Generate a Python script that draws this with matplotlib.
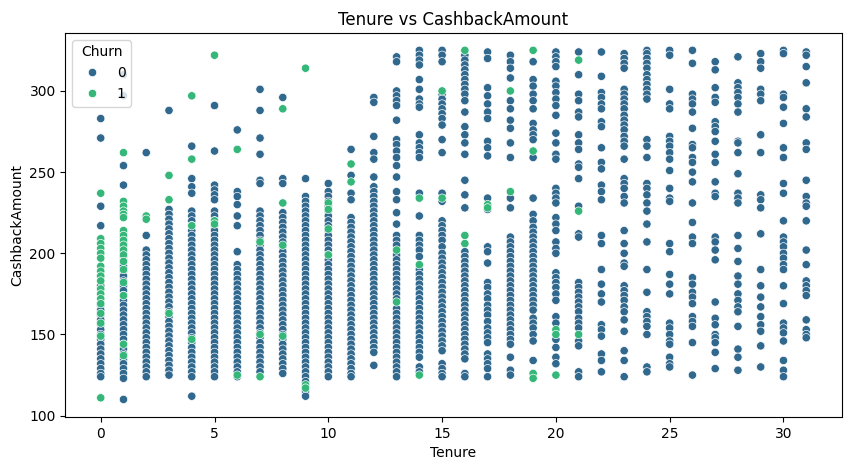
import matplotlib
matplotlib.use("Agg")
import matplotlib.pyplot as plt
import pandas as pd
import seaborn as sns

# Tenure categories (x) and, per tenure, the CashbackAmount values
tenures = list(range(32))

# Churn = 0
cashback_stay = [
    [283, 271, 229, 217, 186, 180, 168, 165, 162, 159, 156, 153, 150, 147, 144, 141, 138, 135, 132, 129, 126, 124],
    [310, 297, 254, 242, 213, 210, 207, 204, 201, 198, 195, 192, 189, 186, 183, 180, 177, 174, 171, 168, 165,
     162, 159, 156, 153, 150, 147, 144, 141, 138, 135, 132, 129, 126, 123, 110],
    [262, 211, 202, 199, 196, 193, 190, 187, 184, 181, 178, 175, 172, 169, 166, 163, 160, 157, 154, 151, 148,
     145, 142, 139, 136, 133, 130, 127, 124],
    [288, 227, 224, 221, 218, 215, 212, 209, 206, 203, 200, 197, 194, 191, 188, 185, 182, 179, 176, 173, 170,
     167, 164, 161, 158, 155, 152, 149, 146, 143, 140, 137, 134, 131, 128, 125],
    [266, 246, 241, 237, 226, 223, 220, 217, 214, 211, 208, 205, 202, 199, 196, 193, 190, 187, 184, 181, 178,
     175, 172, 169, 166, 163, 160, 157, 154, 151, 148, 145, 142, 139, 136, 133, 130, 127, 124, 112],
    [291, 263, 242, 239, 236, 233, 226, 223, 220, 217, 214, 211, 208, 205, 202, 199, 196, 193, 190, 187, 184,
     181, 178, 175, 172, 169, 166, 163, 160, 157, 154, 151, 148, 145, 142, 139, 136, 133, 130, 127, 124],
    [276, 238, 235, 230, 223, 217, 201, 193, 190, 187, 184, 181, 178, 175, 172, 169, 166, 163, 160, 157, 154,
     151, 148, 145, 142, 139, 136, 133, 130, 127, 124],
    [301, 288, 271, 261, 245, 243, 226, 223, 220, 217, 214, 211, 208, 205, 202, 199, 196, 193, 190, 187, 184,
     181, 178, 175, 172, 169, 166, 163, 160, 157, 154, 151, 148, 145, 142, 139, 136, 133, 130, 127],
    [296, 246, 243, 225, 222, 219, 216, 213, 210, 207, 204, 201, 198, 195, 192, 189, 186, 183, 180, 177, 174,
     171, 168, 165, 162, 159, 156, 153, 150, 147, 144, 141, 138, 135, 132, 129, 126],
    [246, 235, 232, 229, 226, 223, 220, 217, 214, 211, 208, 205, 202, 199, 196, 193, 190, 187, 184, 181, 178,
     175, 172, 169, 166, 163, 160, 157, 154, 151, 148, 145, 142, 139, 136, 133, 130, 127, 124, 121, 118, 115, 112],
    [243, 238, 235, 232, 229, 226, 223, 220, 217, 214, 211, 208, 205, 202, 199, 196, 193, 190, 187, 184, 181,
     178, 175, 172, 169, 166, 163, 160, 157, 154, 151, 148, 145, 142, 139, 136, 133, 130, 127, 124],
    [264, 248, 237, 233, 222, 219, 216, 213, 210, 207, 204, 201, 198, 195, 192, 189, 186, 183, 180, 177, 174,
     171, 168, 165, 162, 159, 156, 153, 150, 147, 144, 141, 138, 135, 132, 129, 126, 124],
    [296, 293, 272, 262, 258, 247, 241, 238, 235, 232, 229, 226, 223, 220, 217, 214, 211, 208, 205, 202, 199,
     196, 193, 190, 187, 184, 181, 178, 175, 172, 169, 166, 163, 160, 157, 154, 151, 148, 145, 142, 139, 131],
    [321, 318, 300, 297, 294, 291, 282, 270, 267, 263, 259, 254, 247, 238, 233, 225, 218, 211, 208, 205, 199,
     196, 193, 190, 187, 184, 181, 178, 175, 172, 166, 163, 160, 157, 154, 151, 148, 145, 142, 139, 136, 133,
     130, 127, 124],
    [325, 322, 319, 316, 307, 301, 295, 292, 290, 273, 268, 265, 262, 259, 237, 223, 211, 208, 205, 202, 198,
     190, 187, 184, 181, 178, 175, 172, 169, 166, 163, 160, 157, 154, 151, 148, 145, 142, 139, 136, 130, 127],
    [325, 322, 318, 298, 295, 292, 289, 286, 283, 279, 270, 262, 237, 232, 220, 217, 214, 211, 208, 204, 200,
     197, 194, 191, 188, 185, 182, 179, 176, 173, 170, 167, 164, 161, 158, 155, 152, 149, 146, 143, 140, 132,
     129, 126, 124],
    [322, 319, 316, 313, 310, 307, 304, 301, 298, 294, 287, 278, 273, 268, 261, 245, 236, 228, 201, 198, 195,
     192, 189, 186, 183, 180, 177, 174, 171, 168, 165, 162, 159, 156, 153, 150, 147, 144, 141, 138, 135, 126, 124],
    [324, 320, 302, 297, 292, 287, 283, 269, 265, 260, 234, 227, 204, 201, 194, 182, 179, 175, 172, 168, 165,
     162, 158, 154, 151, 148, 145, 138, 135, 132, 129, 124],
    [322, 318, 314, 308, 294, 289, 282, 277, 268, 259, 234, 228, 210, 207, 204, 201, 198, 195, 192, 189, 186,
     183, 180, 177, 174, 171, 168, 165, 162, 159, 156, 153, 150, 147, 144, 136, 128, 125],
    [318, 307, 303, 298, 294, 289, 280, 276, 273, 270, 259, 234, 224, 220, 216, 213, 210, 207, 204, 201, 198,
     195, 192, 189, 186, 183, 180, 177, 174, 171, 168, 165, 160, 157, 154, 150, 146, 134],
    [324, 321, 318, 315, 306, 303, 299, 295, 291, 285, 274, 268, 261, 258, 240, 237, 234, 231, 222, 218, 214,
     207, 203, 200, 188, 185, 182, 179, 175, 171, 161, 157, 147, 142, 136, 132],
    [324, 310, 298, 294, 287, 284, 273, 268, 264, 255, 253, 246, 229, 212, 210, 182, 179, 176, 173, 170, 167,
     164, 160, 157, 154, 146, 143, 127, 124],
    [324, 309, 299, 296, 292, 289, 281, 278, 265, 256, 252, 242, 238, 233, 211, 206, 190, 181, 175, 170, 156,
     153, 149, 138, 134, 127],
    [323, 320, 317, 314, 301, 298, 295, 292, 289, 285, 282, 279, 276, 272, 269, 266, 258, 246, 243, 240, 235,
     231, 214, 206, 200, 194, 192, 180, 177, 174, 171, 167, 164, 159, 152, 140, 134, 124],
    [325, 323, 320, 317, 314, 310, 307, 304, 301, 298, 295, 270, 266, 259, 243, 240, 236, 231, 226, 218, 207,
     190, 176, 164, 161, 158, 155, 150, 130, 127],
    [325, 322, 301, 292, 289, 272, 269, 266, 262, 258, 251, 240, 234, 232, 206, 201, 187, 181, 175, 157, 154,
     150, 146, 144, 136, 132, 130],
    [325, 317, 298, 295, 292, 287, 277, 267, 265, 259, 256, 250, 244, 231, 219, 210, 206, 185, 181, 176, 173,
     169, 161, 158, 155, 145, 125],
    [318, 313, 302, 296, 293, 281, 278, 275, 269, 261, 256, 244, 237, 235, 210, 207, 202, 196, 170, 160, 156,
     150, 148, 145, 139, 129],
    [321, 305, 302, 299, 296, 292, 287, 269, 268, 262, 249, 237, 234, 231, 211, 203, 195, 186, 181, 175, 171,
     167, 164, 155, 141, 136, 128],
    [323, 318, 314, 301, 298, 294, 273, 262, 236, 233, 228, 212, 190, 180, 173, 167, 161, 156, 152, 143, 130],
    [325, 323, 298, 296, 290, 280, 265, 259, 243, 237, 220, 210, 207, 204, 200, 197, 193, 190, 180, 169, 157,
     154, 151, 146, 134, 128, 124],
    [324, 322, 315, 305, 289, 284, 268, 264, 245, 235, 231, 229, 220, 202, 193, 183, 180, 177, 174, 159, 153,
     150, 148],
]

# Churn = 1
cashback_churn = [
    [237, 209, 206, 203, 200, 197, 192, 189, 186, 183, 178, 175, 172, 169, 163, 157, 149, 111],
    [262, 232, 229, 226, 224, 222, 214, 211, 208, 205, 202, 199, 195, 190, 182, 174, 144, 137],
    [223, 221],
    [248, 233, 163],
    [297, 258, 217, 147],
    [322, 220, 218],
    [264, 125],
    [207, 150, 124],
    [289, 231, 205, 149],
    [314, 119, 117],
    [231, 227, 215, 199],
    [255, 244],
    [],
    [202, 170],
    [234, 193, 125],
    [300, 234],
    [325, 211, 206],
    [230, 228],
    [300, 238],
    [325, 263, 126, 123],
    [153, 150, 125],
    [319, 226, 150],
    [], [], [], [], [], [], [], [], [], [],
]

rows = []
for t in tenures:
    for v in cashback_stay[t]:
        rows.append((t, v, 0))
    for v in cashback_churn[t]:
        rows.append((t, v, 1))
df = pd.DataFrame(rows, columns=["Tenure", "CashbackAmount", "Churn"])

fig, ax = plt.subplots(figsize=(8.5, 4.7), dpi=100)
fig.subplots_adjust(left=0.077, right=0.99, bottom=0.113, top=0.93)

sns.scatterplot(data=df, x="Tenure", y="CashbackAmount", hue="Churn",
                hue_order=[0, 1], palette="viridis", ax=ax)
ax.set_title("Tenure vs CashbackAmount")
ax.legend(title="Churn", loc="upper left")

fig.savefig("out.png", dpi=100)
